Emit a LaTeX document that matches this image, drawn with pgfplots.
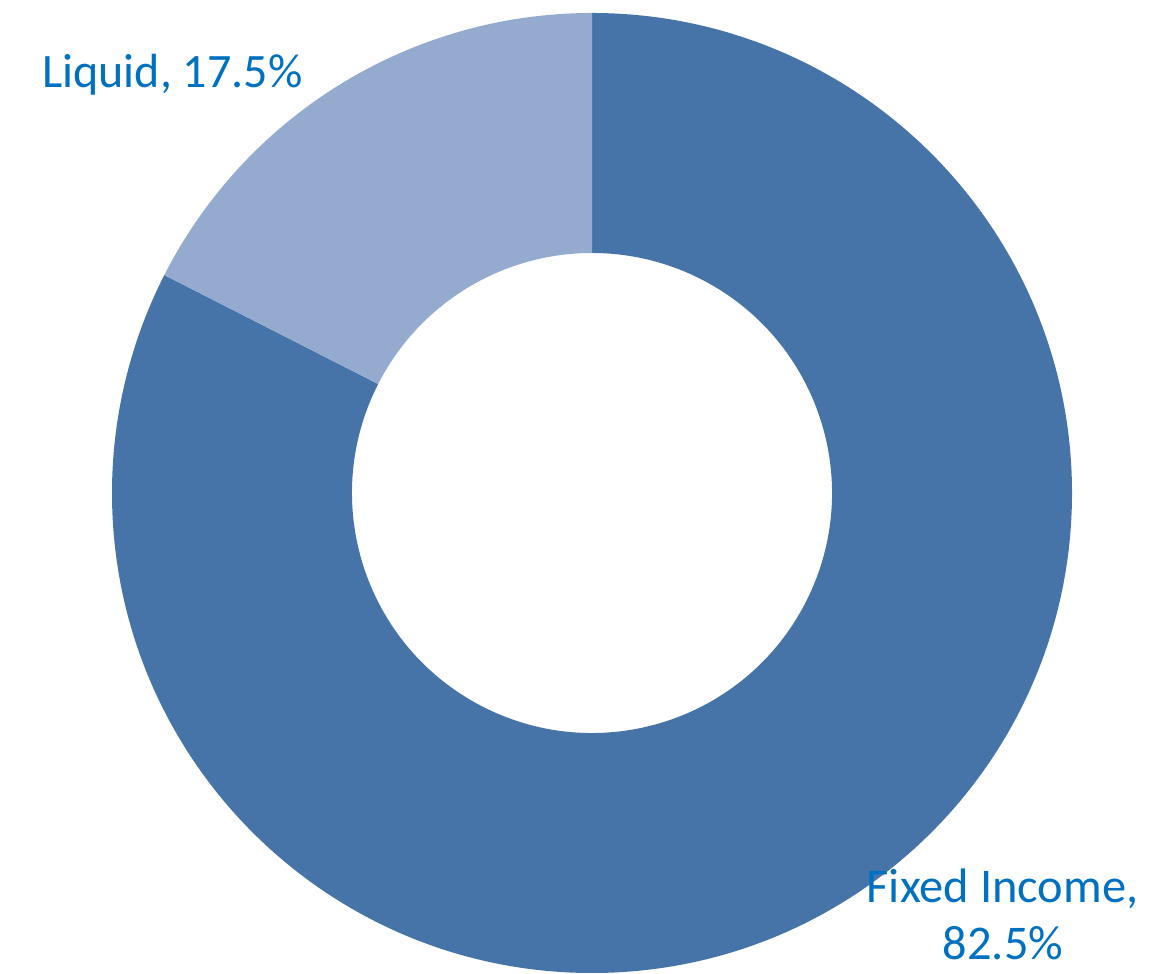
\documentclass[border=0pt]{standalone}
\usepackage{pgfplots}
\pgfplotsset{compat=1.18}
\usepackage{pgfplotstable}
\usepackage{fontspec}
\setmainfont{Carlito}
\definecolor{fixedc}{HTML}{4674A8}
\definecolor{liqc}{HTML}{95AACF}
\definecolor{labc}{HTML}{0070C0}
\pgfplotstableread{
name share
FixedIncome 82.5
Liquid 17.5
}\shares
\begin{document}
\begin{tikzpicture}
\pgfplotstablegetelem{0}{share}\of\shares
\let\FI\pgfplotsretval
\pgfmathsetmacro\splitang{90-3.6*\FI}
\pgfmathsetmacro\ox{592+480*cos(\splitang)}
\pgfmathsetmacro\oy{480+480*sin(\splitang)}
\pgfmathsetmacro\ix{592+240*cos(\splitang)}
\pgfmathsetmacro\iy{480+240*sin(\splitang)}
\begin{axis}[
  scale only axis, width=588pt, height=486.5pt,
  xmin=0, xmax=1176, ymin=0, ymax=973,
  hide axis, clip=false,
]
\path (axis cs:0,0) rectangle (axis cs:1176,973);
% Fixed Income: clockwise from top
\fill[fixedc] (axis cs:592,960) arc[start angle=90, end angle=\splitang, radius=480]
  -- (axis cs:\ix,\iy) arc[start angle=\splitang, end angle=90, radius=240] -- cycle;
% Liquid
\fill[liqc] (axis cs:\ox,\oy) arc[start angle=\splitang+360, end angle=90, radius=480]
  -- (axis cs:592,720) arc[start angle=90, end angle=\splitang+360, radius=240] -- cycle;
\node[anchor=base west, text=labc, font=\fontsize{24}{29}\selectfont, inner sep=0pt] at (axis cs:42,885) {Liquid, 17.5\%};
\node[anchor=base, text=labc, font=\fontsize{24.2}{29}\selectfont, inner sep=0pt] at (axis cs:1002.5,70) {Fixed Income,};
\node[anchor=base, text=labc, font=\fontsize{24.2}{29}\selectfont, inner sep=0pt] at (axis cs:1003,13) {82.5\%};
\end{axis}
\end{tikzpicture}
\end{document}
